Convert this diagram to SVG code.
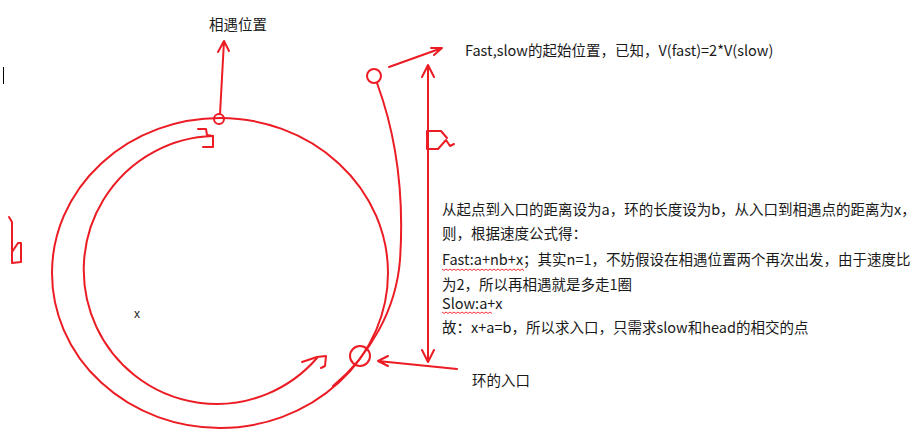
<svg xmlns="http://www.w3.org/2000/svg" width="918" height="434" viewBox="0 0 918 434">
<style>
.r{fill:none;stroke:#ec1c24;stroke-width:2;stroke-linecap:round;stroke-linejoin:round}
.t{font-family:"Noto Sans CJK SC","Liberation Sans",sans-serif;font-size:14.5px;fill:#1a1a1a}
.w{fill:none;stroke:#ec1c24;stroke-width:0.9}
</style>
<rect width="918" height="434" fill="#fff"/>
<g id="ring">
<ellipse class="r" cx="220" cy="273" rx="168" ry="155"/>
</g>
<g id="meet-point">
<circle class="r" cx="219" cy="119" r="5" fill="#fff"/>
</g>
<g id="start-point">
<circle class="r" cx="374" cy="76" r="7"/>
</g>
<g id="entry-point">
<circle class="r" cx="360" cy="356" r="10"/>
</g>
<g id="connectors">
<path class="r" d="M377,83 C398,140 404,200 400,260 C396,310 370,355 333,386"/>
<path class="r" d="M213,136 A133,134 0 1 0 317,358"/>
<path class="r" d="M302,362 L317,357 L326,356 L325,366 L321,368"/>
<path class="r" d="M198,129 L206,129 L207,135 L213,136 L213,147 L203,147"/>
<path class="r" d="M220,114 L224,41 M218,52 L224,41 L229,51"/>
<path class="r" d="M389,67 L442,48 M431,48 L442,48 L434,55"/>
<path class="r" d="M428,65 L428,362 M422,77 L428,65 L434,77 M422,350 L428,362 L434,350"/>
<path class="r" d="M457,369 L378,361 M388,356 L378,361 L388,366"/>
<path class="r" d="M427,131 L441,131 L447,138 M427,131 L427,149 L438,149 L446,140 L450,146 L454,144"/>
<path class="r" d="M9,217 L12,222 L12,263 L21,262 L21,243 L18,243 L12,252"/>
</g>
<line x1="3.5" y1="67" x2="3.5" y2="84" stroke="#000" stroke-width="1"/>
<g id="labels">
<text class="t" x="209" y="30">相遇位置</text>
<text class="t" x="465" y="55.5">Fast,slow的起始位置，已知，V(fast)=2*V(slow)</text>
<text class="t" x="472" y="386">环的入口</text>
<text x="134" y="318" font-family="Liberation Sans,sans-serif" font-size="12" fill="#1a1a1a">x</text>
<text class="t" x="442" y="215">从起点到入口的距离设为a，环的长度设为b，从入口到相遇点的距离为x，</text>
<text class="t" x="442" y="239">则，根据速度公式得：</text>
<text class="t" x="442" y="265">Fast:a+nb+x；其实n=1，不妨假设在相遇位置两个再次出发，由于速度比</text>
<text class="t" x="442" y="290">为2，所以再相遇就是多走1圈</text>
<text class="t" x="442" y="309">Slow:a+x</text>
<text class="t" x="442" y="333">故：x+a=b，所以求入口，只需求slow和head的相交的点</text>
</g>
<path class="w" d="M442,269 l2,1.5 l2,-1.5 l2,1.5 l2,-1.5 l2,1.5 l2,-1.5 l2,1.5 l2,-1.5 l2,1.5 l2,-1.5 l2,1.5 l2,-1.5 l2,1.5 l2,-1.5 l2,1.5 l2,-1.5 l2,1.5 l2,-1.5 l2,1.5 l2,-1.5 l2,1.5 l2,-1.5 l2,1.5 l2,-1.5 l2,1.5 l2,-1.5 l2,1.5 l2,-1.5 l2,1.5 l2,-1.5 l2,1.5 l2,-1.5 l2,1.5 l2,-1.5 l2,1.5 l2,-1.5 l2,1.5 l2,-1.5 l2,1.5 l2,-1.5 l2,1.5"/>
<path class="w" d="M442,312 l2,1.5 l2,-1.5 l2,1.5 l2,-1.5 l2,1.5 l2,-1.5 l2,1.5 l2,-1.5 l2,1.5 l2,-1.5 l2,1.5 l2,-1.5 l2,1.5 l2,-1.5 l2,1.5 l2,-1.5 l2,1.5 l2,-1.5 l2,1.5 l2,-1.5 l2,1.5 l2,-1.5 l2,1.5 l2,-1.5 l2,1.5"/>
</svg>
